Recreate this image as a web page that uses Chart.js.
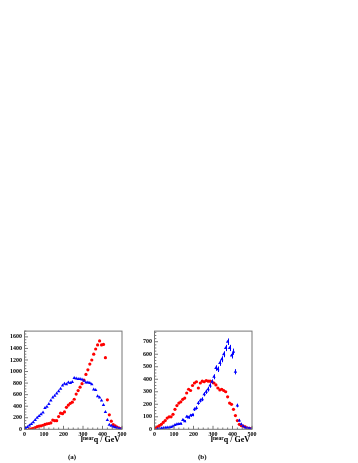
<!DOCTYPE html>
<html><head><meta charset="utf-8">
<script src="https://cdn.jsdelivr.net/npm/chart.js@4/dist/chart.umd.min.js"></script>
<style>
html,body{margin:0;padding:0;background:#fff;width:358px;height:463px;overflow:hidden}
canvas{position:absolute}
.t{position:absolute;font-family:"Liberation Serif","DejaVu Serif",serif;font-weight:bold;color:#000;white-space:nowrap}
.sup{font-size:5.5px;position:relative;top:-2px}
</style></head><body>
<canvas id="ca" width="128" height="115" style="left:0;top:325px"></canvas>
<canvas id="cb" width="128" height="115" style="left:130px;top:325px"></canvas>
<div class="t" style="right:238px;top:435.5px;font-size:8px;line-height:8px">l<span class="sup">near</span>q / GeV</div>
<div class="t" style="right:108px;top:435.5px;font-size:8px;line-height:8px">l<span class="sup">near</span>q / GeV</div>
<div class="t" style="left:68px;top:454px;font-size:7px;line-height:7px">(a)</div>
<div class="t" style="left:198px;top:454px;font-size:7px;line-height:7px">(b)</div>
<script>
// bin centres (GeV)
const binCenters = [5,15,25,35,45,55,65,75,85,95,105,115,125,135,145,155,165,175,185,195,
  205,215,225,235,245,255,265,275,285,295,305,315,325,335,345,355,365,375,385,395,
  405,415,425,435,445,455,465,475,485,495];
// panel (a)
const aBlue = [20,40,65,90,120,160,200,230,260,290,370,390,440,500,550,580,620,660,700,760,
  790,780,810,800,820,890,880,870,870,860,840,810,810,800,780,690,680,570,550,500,
  420,300,160,80,60,45,35,25,15,10];
const aRed = [null,null,3,8,17,30,45,55,60,70,85,95,100,110,160,150,150,220,280,270,
  300,380,420,450,470,520,610,670,730,790,850,950,1030,1130,1200,1300,1390,1460,1530,1460,
  1470,1240,510,250,140,80,60,40,20,10];
// panel (b)
const bBlue = [null,2,5,8,10,12,14,15,18,25,35,40,42,45,75,65,100,95,110,115,
  160,170,210,230,240,280,300,320,350,380,420,490,480,530,560,600,650,700,650,590,
  620,460,190,70,40,25,15,10,8,5];
const bBlueErr = [0,1,2,3,3,3,4,4,4,5,6,6,7,7,9,8,10,10,10,11,
  13,13,14,15,15,16,17,18,18,19,20,22,22,23,24,24,25,26,25,24,
  25,21,14,8,6,5,4,3,3,2];
const bRed = [10,20,30,40,55,70,90,100,100,120,160,190,210,220,240,250,290,320,310,350,
  370,380,330,370,385,380,390,385,385,380,370,355,330,315,320,310,300,260,210,200,
  160,110,70,40,30,25,20,10,8,5];
// axis ticks
const xMajorStep = 100, xMinorStep = 25;
const aYMax = 1700, aYStep = 200, aYMinor = 50;
const bYMax = 785, bYStep = 100, bYMinor = 25;

const FONT = {family:'"Liberation Serif", "DejaVu Serif", serif', size:6, weight:'bold'};

const framePlugin = {
  id:'frame',
  beforeDatasetsDraw(chart){
    const ctx = chart.ctx, xs = chart.scales.x, ys = chart.scales.y;
    chart.data.datasets.forEach(ds=>{
      if(!ds.errors) return;
      ctx.save(); ctx.strokeStyle = ds.borderColor; ctx.lineWidth = 1;
      ds.data.forEach((p,i)=>{
        if(p.y==null || !ds.errors[i]) return;
        const px = Math.round(xs.getPixelForValue(p.x))+0.5;
        ctx.beginPath();
        ctx.moveTo(px, ys.getPixelForValue(p.y-ds.errors[i]));
        ctx.lineTo(px, ys.getPixelForValue(p.y+ds.errors[i]));
        ctx.stroke();
      });
      ctx.restore();
    });
  },
  afterDraw(chart){
    const ctx = chart.ctx, a = chart.chartArea, xs = chart.scales.x, ys = chart.scales.y;
    const o = chart.options.plugins.frame;
    ctx.save();
    ctx.strokeStyle = '#777'; ctx.lineWidth = 1;
    ctx.strokeRect(a.left, a.top, a.right-a.left, a.bottom-a.top);
    ctx.beginPath();
    for(let v=0; v<=500; v+=xMinorStep){
      const px = xs.getPixelForValue(v);
      const len = (v % xMajorStep === 0) ? 3.5 : 1.8;
      ctx.moveTo(px, a.bottom); ctx.lineTo(px, a.bottom-len);
    }
    for(let v=0; v<=o.ymax; v+=o.minor){
      const py = ys.getPixelForValue(v);
      const len = (v % o.step === 0) ? 3.5 : 1.8;
      ctx.moveTo(a.left, py); ctx.lineTo(a.left+len, py);
    }
    ctx.stroke();
    ctx.restore();
  }
};

function makeChart(id, blue, blueErr, red, ymax, step, minor){
  const pts = arr => binCenters.map((x,i)=>({x:x, y:arr[i]}));
  return new Chart(document.getElementById(id), {
    type:'scatter',
    data:{datasets:[
      {data:pts(blue), pointStyle:'triangle', pointRadius:2, backgroundColor:'#0000ff', borderColor:'#0000ff', borderWidth:0, errors:blueErr},
      {data:pts(red), pointStyle:'circle', pointRadius:1.6, backgroundColor:'#ff0000', borderColor:'#ff0000', borderWidth:0}
    ]},
    options:{
      responsive:false, animation:false,
      layout:{padding:{top:5,right:6,left:0,bottom:0}},
      plugins:{legend:{display:false}, tooltip:{enabled:false}, frame:{ymax:ymax, step:step, minor:minor}},
      scales:{
        x:{type:'linear', min:0, max:500,
           afterFit(s){ s.height = 10.7; },
           grid:{display:false, drawTicks:false}, border:{display:false},
           ticks:{stepSize:xMajorStep, padding:1.5, font:FONT, color:'#000', maxRotation:0, includeBounds:false, autoSkip:false,
                  callback:v=>String(v)}},
        y:{type:'linear', min:0, max:ymax,
           afterFit(s){ s.width = 24.5; },
           grid:{display:false, drawTicks:false}, border:{display:false},
           ticks:{stepSize:step, padding:2.5, font:FONT, color:'#000', includeBounds:false, autoSkip:false,
                  callback:v=>String(v)}}
      }
    },
    plugins:[framePlugin]
  });
}
makeChart('ca', aBlue, null, aRed, aYMax, aYStep, aYMinor);
makeChart('cb', bBlue, bBlueErr, bRed, bYMax, bYStep, bYMinor);
</script>
</body></html>
